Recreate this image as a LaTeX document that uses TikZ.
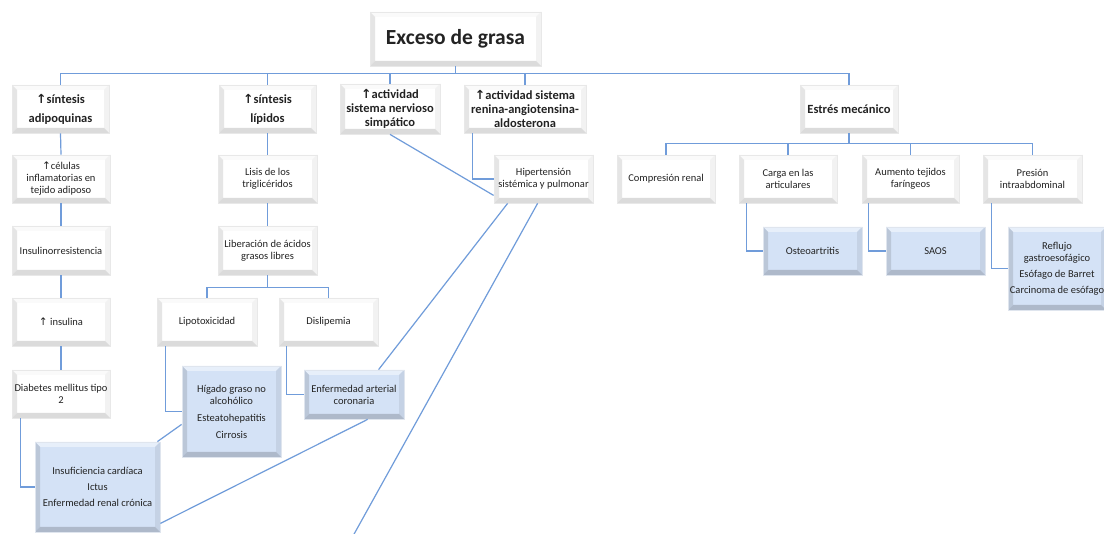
\documentclass[tikz,border=0pt]{standalone}
\usepackage{fontspec}
\setmainfont{Carlito}
\newfontfamily\symfont{DejaVu Sans}
\usetikzlibrary{calc}
\newcommand\arrowup{{\symfont ↑}}
\definecolor{linkblue}{RGB}{112,156,218}
\definecolor{paleblue}{RGB}{212,226,246}
\definecolor{textgrey}{RGB}{35,35,35}

\tikzset{
  % beveled rectangle: left, bottom, top, right edge bands
  bevel/.style n args={4}{path picture={
    \path (path picture bounding box.south west) coordinate (bsw)
          (path picture bounding box.north east) coordinate (bne)
          (path picture bounding box.north west) coordinate (bnw)
          (path picture bounding box.south east) coordinate (bse);
    \fill[#3] (bnw) -- ($(bnw)+(5pt,-5pt)$) -- ($(bne)+(-5pt,-5pt)$) -- (bne) -- cycle;
    \fill[#4] (bne) -- ($(bne)+(-5pt,-5pt)$) -- ($(bse)+(-5pt,5pt)$) -- (bse) -- cycle;
    \fill[#1] (bnw) -- ($(bnw)+(5pt,-5pt)$) -- ($(bsw)+(5pt,5pt)$) -- (bsw) -- cycle;
    \fill[#2] (bsw) -- ($(bsw)+(5pt,5pt)$) -- ($(bse)+(-5pt,5pt)$) -- (bse) -- cycle;
  }},
  boxbase/.style={inner sep=0pt, align=center, line width=0.8pt, text=textgrey},
  whitebox/.style={boxbase, fill=white, draw=black!9,
    bevel={black!10}{black!14}{black!2}{black!5}},
  bluebox/.style={boxbase, fill=paleblue, draw=paleblue!90!black!50,
    bevel={paleblue!88!black}{paleblue!82!black}{paleblue!55!white}{paleblue!93!black}},
  wh/.style 2 args={minimum width=#1pt, minimum height=#2pt},
  bodyfont/.style={font=\fontsize{10.5}{12}\selectfont},
  headfont/.style={font=\bfseries\fontsize{12.5}{14}\selectfont},
  titlefont/.style={font=\bfseries\fontsize{21.5}{24}\selectfont},
  link/.style={draw=linkblue, line width=1.2pt},
}

\begin{document}
\begin{tikzpicture}[x=1pt, y=-1pt]
\clip (0,0) rectangle (1104,534);
\fill[white] (0,0) rectangle (1104,534);

% ---------- root and first level ----------
\node[whitebox, titlefont, wh={171}{54}] (exceso) at (455.5,39) {Exceso de grasa};

\node[whitebox, headfont, wh={97}{48}]  (adip)   at (60.5,109)  {\arrowup síntesis\\[5pt]adipoquinas};
\node[whitebox, headfont, wh={97}{48}]  (lip)    at (267.5,109) {\arrowup síntesis\\[5pt]lípidos};
\node[whitebox, headfont, wh={100}{50}] (nerv)   at (390,109)   {\arrowup actividad\\sistema nervioso\\simpático};
\node[whitebox, headfont, wh={122}{48}] (ren)    at (525,109)   {\arrowup actividad sistema\\renina-angiotensina-\\aldosterona};
\node[whitebox, headfont, wh={98}{48}]  (estres) at (849,109)   {Estrés mecánico};

% ---------- adipoquinas branch ----------
\node[whitebox, bodyfont, wh={98}{48}] (cel)  at (61,179)   {\arrowup células\\inflamatorias en\\tejido adiposo};
\node[whitebox, bodyfont, wh={98}{49}] (insr) at (61,250.5) {Insulinorresistencia};
\node[whitebox, bodyfont, wh={98}{48}] (insu) at (61,322)   {\arrowup\ insulina};
\node[whitebox, bodyfont, wh={98}{48}] (diab) at (61,394)   {Diabetes mellitus tipo\\2};
\node[bluebox, bodyfont, wh={125}{90}] (insuf) at (97.5,487)
  {Insuficiencia cardíaca\\[4pt]Ictus\\[4pt]Enfermedad renal crónica};

% ---------- lipid branch ----------
\node[whitebox, bodyfont, wh={99}{48}]  (lisis) at (267.5,179)  {Lisis de los\\triglicéridos};
\node[whitebox, bodyfont, wh={99}{49}]  (lib)   at (267.5,250.5){Liberación de ácidos\\grasos libres};
\node[whitebox, bodyfont, wh={100}{48}] (lipo)  at (207,322)    {Lipotoxicidad};
\node[whitebox, bodyfont, wh={99}{48}]  (disl)  at (328.5,322)  {Dislipemia};
\node[bluebox, bodyfont, wh={99}{91}]   (higado) at (231.5,411.5)
  {Hígado graso no\\alcohólico\\[5pt]Esteatohepatitis\\[5pt]Cirrosis};
\node[bluebox, bodyfont, wh={100}{49}]  (eac)   at (354,394.5)  {Enfermedad arterial\\coronaria};

% ---------- hypertension ----------
\node[whitebox, bodyfont, wh={99}{48}] (hip) at (543.5,179) {Hipertensión\\sistémica y pulmonar};

% ---------- mechanical stress branch ----------
\node[whitebox, bodyfont, wh={98}{48}] (comp)  at (666,179)    {Compresión renal};
\node[whitebox, bodyfont, wh={98}{48}] (carga) at (788,179)    {Carga en las\\articulares};
\node[whitebox, bodyfont, wh={97}{48}] (aum)   at (910.5,179)  {Aumento tejidos\\faríngeos};
\node[whitebox, bodyfont, wh={99}{48}] (pres)  at (1032.5,179) {Presión\\intraabdominal};
\node[bluebox, bodyfont, wh={99}{48}]  (osteo) at (812.5,251)  {Osteoartritis};
\node[bluebox, bodyfont, wh={99}{48}]  (saos)  at (935.5,251)  {SAOS};
\node[bluebox, bodyfont, wh={98}{83}]  (reflujo) at (1057,268.5)
  {Reflujo\\gastroesofágico\\[4pt]Esófago de Barret\\[4pt]Carcinoma de esófago};

\coordinate (loose) at (353,536);

% ---------- connectors ----------
\foreach \c in {adip,lip,nerv,ren,estres}
  \draw[link] (exceso.south) -- ++(0,7) -| (\c.north);

\draw[link] (adip.south) -- (cel.north);
\draw[link] (cel.south) -- (insr.north);
\draw[link] (insr.south) -- (insu.north);
\draw[link] (insu.south) -- (diab.north);
\draw[link] ($(diab.south west)+(9,0)$) |- (insuf.west);

\draw[link] (lip.south) -- (lisis.north);
\draw[link] (lisis.south) -- (lib.north);
\draw[link] (lib.south) -- ++(0,12) -| (lipo.north);
\draw[link] (lib.south) -- ++(0,12) -| (disl.north);
\draw[link] ($(lipo.south west)+(9,0)$) |- (higado.west);
\draw[link] ($(disl.south west)+(8,0)$) |- (eac.west);

\draw[link] ($(ren.south west)+(9,0)$) |- (hip.west);
\draw[link] (nerv.south) -- ($(hip.south west)+(0,-8)$);
\draw[link] ($(hip.south west)+(14,0)$) -- ($(eac.north west)+(75,0)$);
\draw[link] ($(hip.south west)+(44,0)$) -- (loose);
\draw[link] ($(eac.south west)+(64,0)$) -- ($(insuf.south east)+(0,-9)$);
\draw[link] ($(higado.south west)+(0,-33)$) -- ($(insuf.north east)+(-3,0)$);

\foreach \c in {comp,carga,aum,pres}
  \draw[link] (estres.south) -- ++(0,10) -| (\c.north);
\draw[link] ($(carga.south west)+(8,0)$) |- (osteo.west);
\draw[link] ($(aum.south west)+(7,0)$) |- (saos.west);
\draw[link] ($(pres.south west)+(9,0)$) |- (reflujo.west);
\end{tikzpicture}
\end{document}
